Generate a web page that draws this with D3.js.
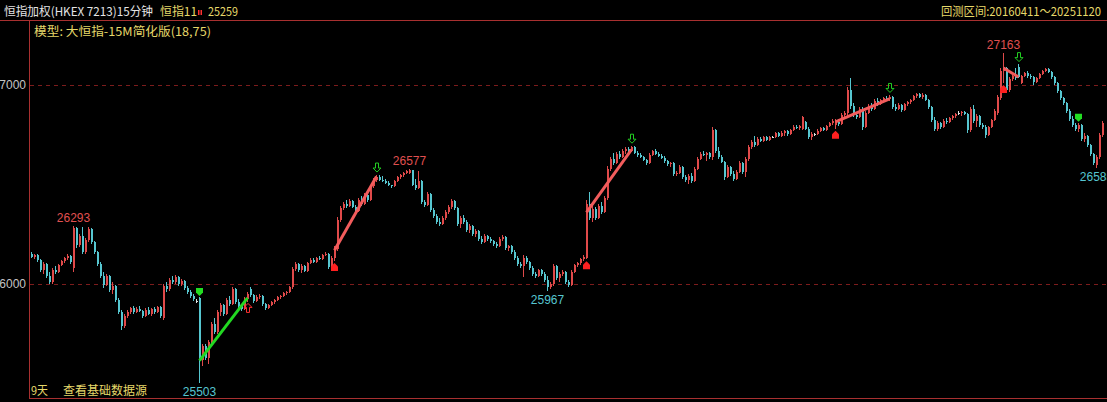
<!DOCTYPE html>
<html>
<head>
<meta charset="utf-8">
<script src="https://cdn.jsdelivr.net/npm/d3@7"></script>
<style>
html, body { margin: 0; padding: 0; background: #000; overflow: hidden; }
svg { display: block; }
</style>
</head>
<body>
<div id="chart"></div>
<script>

/* Data */
/* ---- */

// 15 minute bars, [open, high, low, close]
var bars1 = [
  [26150,26160,26130,26135],[26135,26150,26125,26145],[26145,26150,26110,26120],[26120,26125,26060,26070],
  [26070,26110,26050,26100],[26100,26105,26030,26040],[26040,26060,26000,26010],[26010,26080,26000,26070],
  [26070,26090,26050,26060],[26060,26100,26055,26095],[26095,26120,26090,26115],[26115,26135,26105,26130],
  [26130,26150,26120,26140],[26140,26145,26100,26110],[26080,26293,26060,26280],[26280,26285,26180,26195],
  [26195,26250,26185,26240],[26240,26285,26150,26160],[26160,26230,26150,26220],[26220,26285,26210,26275],
  [26275,26280,26200,26210],[26210,26215,26150,26160],[26160,26165,26090,26100],[26100,26110,26030,26040],
  [26040,26060,25980,25995],[25995,26050,25990,26040],[26040,26045,25960,25970],[25970,26010,25950,25990],
  [25990,25995,25910,25920],[25920,25930,25850,25860],[25860,25870,25770,25790],[25790,25850,25780,25840],
  [25840,25870,25830,25860],[25860,25885,25850,25880],[25880,25890,25850,25860],[25860,25885,25855,25875],
  [25875,25890,25860,25865],[25865,25870,25830,25840],[25840,25880,25835,25870],[25870,25885,25845,25850],
  [25850,25880,25840,25875],[25875,25885,25850,25860],[25860,25890,25855,25885],[25885,25890,25830,25840]
];
var bars2 = [
  [25830,26000,25820,25990],[25990,26010,25960,25975],[25975,26030,25965,26020],[26020,26040,26000,26010],
  [26010,26045,26000,26035],[26035,26040,25990,26000],[26000,26025,25990,26015],[26015,26020,25970,25980],
  [25980,25990,25950,25960],[25960,25970,25930,25940],[25940,25950,25915,25925],[25915,25925,25905,25915]
];
var bars3 = [
  [25930,25935,25503,25620],[25620,25700,25590,25690],[25690,25700,25620,25630],[25630,25720,25600,25710],
  [25710,25810,25700,25800],[25800,25830,25750,25760],[25760,25870,25750,25860],[25860,25905,25840,25895],
  [25895,25900,25840,25850],[25850,25930,25845,25920],[25920,25940,25890,25900],[25900,25985,25895,25975],
  [25975,25980,25900,25910],[25910,25925,25880,25890],[25890,25900,25865,25875],[25875,25935,25870,25925],
  [25925,25960,25910,25950],[25975,25985,25935,25945],[25945,25950,25905,25915],[25915,25945,25910,25935],
  [25935,25950,25925,25940],[25940,25945,25890,25900],[25900,25905,25870,25880],[25880,25900,25875,25895],
  [25895,25915,25890,25910],[25910,25925,25900,25920],[25920,25940,25915,25935],[25935,25945,25925,25940],
  [25940,25960,25935,25955],[25955,25965,25945,25960],[25960,25990,25955,25985]
];
var bars4 = [
  [25985,26085,25975,26075],[26075,26110,26065,26100],[26100,26105,26060,26070],[26070,26100,26055,26090],
  [26090,26095,26060,26065],[26065,26110,26060,26105],[26105,26130,26100,26120],[26120,26130,26105,26110],
  [26110,26135,26105,26130],[26130,26140,26120,26125],[26125,26150,26120,26145],[26145,26160,26140,26150],
  [26150,26155,26075,26085],[26085,26140,26080,26130],[26130,26190,26115,26175],[26175,26335,26165,26320],
  [26320,26390,26310,26380],[26380,26410,26370,26400],[26400,26420,26380,26390],[26390,26425,26385,26415],
  [26415,26420,26380,26385],[26385,26395,26355,26365],[26365,26430,26360,26420],[26420,26440,26390,26400],
  [26400,26455,26395,26445],[26445,26450,26410,26420],[26420,26500,26415,26490],[26490,26535,26480,26525],
  [26525,26550,26515,26540],[26540,26550,26520,26525],[26525,26545,26515,26520],[26520,26530,26505,26510],
  [26510,26520,26490,26495],[26495,26500,26480,26490],[26490,26525,26485,26520],[26520,26545,26515,26540],
  [26540,26555,26530,26550],[26550,26565,26540,26560],[26560,26575,26555,26570],[26560,26577,26555,26572],
  [26572,26575,26490,26500],[26500,26530,26470,26480],[26480,26570,26475,26520],[26520,26525,26400,26410],
  [26410,26420,26385,26395],[26395,26460,26390,26450],[26450,26455,26360,26370],[26370,26380,26330,26340],
  [26340,26350,26300,26310],[26310,26330,26290,26300],[26300,26340,26295,26330],[26330,26370,26320,26360],
  [26360,26395,26350,26385],[26385,26425,26375,26415],[26415,26420,26370,26380],[26380,26385,26290,26300]
];
var bars5 = [
  [26300,26340,26280,26330],[26330,26345,26300,26310],[26310,26320,26260,26270],[26270,26300,26255,26290],
  [26290,26295,26240,26250],[26250,26275,26235,26265],[26265,26270,26215,26225],[26225,26240,26200,26210],
  [26210,26250,26205,26240],[26240,26245,26215,26225],[26225,26235,26205,26215],[26215,26220,26190,26200],
  [26200,26210,26180,26190],[26190,26235,26185,26225],[26225,26245,26215,26235],[26235,26240,26170,26180],
  [26180,26195,26165,26190],[26190,26195,26150,26160],[26160,26170,26120,26130],[26130,26140,26090,26100],
  [26100,26110,26080,26090],[26090,26145,26035,26130],[26130,26140,26100,26110],[26110,26115,26070,26080],
  [26080,26090,26040,26050],[26050,26060,26030,26040],[26040,26075,26035,26070],[26070,26075,26040,26050],
  [26050,26060,26010,26020],[26020,26040,25967,25985],[25985,26010,25975,26000],[26000,26100,25990,26090],
  [26090,26095,26020,26030],[26030,26060,26010,26050],[26050,26070,26040,26060],[26060,26065,26000,26010],
  [26010,26020,25985,25995],[25995,26070,25990,26060],[26060,26100,26055,26095],[26095,26110,26085,26105],
  [26105,26130,26095,26125],[26125,26145,26115,26135],[26130,26420,26125,26400]
];
var bars6 = [
  [26400,26460,26320,26330],[26330,26390,26310,26375],[26375,26385,26320,26330],[26330,26400,26325,26390],
  [26390,26410,26350,26360],[26360,26440,26355,26430],[26430,26595,26420,26580],[26580,26640,26570,26630],
  [26630,26660,26600,26610],[26610,26665,26605,26655],[26655,26670,26630,26640],[26640,26680,26635,26670],
  [26670,26690,26655,26680],[26680,26690,26660,26670],[26670,26695,26665,26690],[26690,26695,26655,26660],
  [26660,26670,26640,26650],[26650,26660,26635,26640],[26640,26645,26620,26625],[26625,26630,26600,26610],
  [26610,26660,26605,26650],[26650,26675,26645,26670],[26670,26680,26650,26655],[26655,26665,26640,26645],
  [26645,26655,26630,26635],[26635,26645,26610,26620],[26620,26625,26595,26605],[26605,26615,26590,26610],
  [26610,26615,26545,26555],[26555,26570,26545,26560],[26560,26600,26555,26590],[26590,26595,26530,26540],
  [26540,26550,26515,26525],[26525,26555,26505,26545],[26545,26560,26510,26520],[26520,26590,26515,26580],
  [26580,26640,26575,26630],[26630,26665,26625,26655],[26655,26670,26645,26650],[26650,26665,26620,26660],
  [26660,26665,26630,26640]
];
var bars7 = [
  [26640,26790,26625,26775],[26775,26780,26660,26670],[26670,26690,26630,26640],[26640,26650,26610,26615],
  [26615,26620,26525,26540],[26540,26600,26535,26590],[26590,26595,26545,26555],[26555,26570,26520,26530],
  [26530,26575,26525,26565],[26565,26620,26560,26610],[26610,26615,26555,26565],[26565,26640,26540,26630],
  [26630,26700,26620,26690],[26690,26725,26680,26715],[26715,26745,26690,26700],[26700,26740,26695,26730],
  [26730,26740,26715,26720],[26720,26745,26715,26740],[26740,26745,26720,26725],[26725,26745,26720,26740],
  [26738,26742,26732,26738],[26738,26765,26735,26760],[26760,26765,26740,26745],[26745,26770,26740,26760],
  [26760,26775,26745,26770],[26770,26775,26745,26755],[26755,26780,26750,26775],[26775,26800,26770,26790],
  [26790,26800,26780,26785],[26785,26800,26775,26795],[26780,26845,26775,26840],[26815,26820,26775,26780],
  [26780,26790,26730,26740],[26740,26765,26725,26755],[26755,26760,26745,26755],[26755,26780,26750,26770],
  [26770,26790,26765,26785],[26785,26790,26770,26775],[26775,26800,26770,26795],[26795,26815,26790,26810],
  [26810,26830,26800,26820],[26800,26830,26780,26815],[26815,26830,26795,26805],[26805,26860,26800,26850],
  [26850,26870,26840,26860]
];
var bars8 = [
  [26860,26990,26840,26975],[26975,27035,26880,26895],[26895,26910,26840,26850],[26850,26865,26830,26840],
  [26840,26890,26835,26880],[26880,26890,26775,26790],[26790,26870,26785,26860],[26860,26905,26855,26895],
  [26895,26910,26870,26880],[26880,26930,26875,26920],[26920,26935,26895,26905],[26905,26930,26900,26925],
  [26925,26940,26915,26935],[26935,26945,26920,26930],[26930,26950,26920,26940],[26940,26945,26880,26890],
  [26890,26905,26870,26880],[26880,26910,26875,26900],[26900,26905,26865,26875],[26875,26910,26870,26905],
  [26905,26920,26895,26915],[26915,26930,26905,26925],[26925,26950,26920,26945],[26945,26960,26935,26955],
  [26955,26960,26935,26940],[26940,26960,26930,26950],[26950,26955,26920,26925],[26925,26930,26880,26890],
  [26890,26895,26815,26825],[26825,26840,26770,26780],[26780,26820,26770,26810],[26810,26815,26780,26790],
  [26790,26830,26785,26820],[26820,26835,26805,26815],[26815,26840,26810,26835],[26835,26850,26825,26845],
  [26845,26860,26835,26855],[26858,26868,26850,26858],[26858,26870,26845,26865],[26865,26870,26850,26855],
  [26855,26860,26760,26775],[26775,26890,26765,26880],[26880,26900,26810,26820],[26820,26855,26790,26845],
  [26845,26850,26790,26800],[26800,26810,26780,26790],[26790,26800,26735,26750],[26750,26795,26745,26790],
  [26790,26830,26785,26825],[26825,26880,26820,26870],[26860,26950,26850,26940],[26935,27085,26925,27070]
];
var bars9 = [
  [27070,27163,27010,27090],[27085,27090,26965,26975],[26975,27040,26965,27030],[27030,27050,27020,27045],
  [27045,27085,27025,27035],[27090,27105,27035,27040],[27010,27050,27005,27045],[27045,27065,27040,27060],
  [27060,27070,27035,27045],[27045,27055,27030,27040],[27040,27045,27000,27015],[27015,27040,27010,27035],
  [27035,27060,27030,27055],[27055,27075,27050,27070],[27070,27085,27065,27080],[27080,27085,27060,27065],
  [27065,27070,27030,27040],[27040,27045,27000,27010],[27010,27015,26960,26970],[26970,26975,26925,26935],
  [26935,26940,26900,26910],[26910,26915,26860,26870],[26870,26880,26820,26830],[26830,26845,26790,26800],
  [26800,26810,26770,26780],[26780,26810,26765,26800],[26800,26805,26720,26730],[26730,26760,26715,26745],
  [26745,26750,26690,26700],[26700,26705,26645,26655],[26655,26660,26600,26610],[26600,26650,26585,26640],
  [26640,26760,26630,26750],[26750,26820,26740,26810]
];

var yTicks = [26000, 27000];

// [side, entry bar, entry price, exit bar, exit price]
var trades = [
  ['short', 56, 25615, 72, 25930],
  ['long', 101, 26170, 115, 26540],
  ['long', 185, 26360, 200, 26675],
  ['long', 268, 26815, 286, 26930],
  ['long', 324, 27085, 329, 27040],
  ['short', 349, null, null, null]
];

// marked highs / lows [bar, which]
var extremes = [[14, 'high'], [56, 'low'], [126, 'high'], [172, 'low'], [324, 'high'], [355, 'low']];


/* Setup */
/* ----- */

var W = 1107, H = 402;
var plot = { left: 30, right: 1104, top: 21, bottom: 397 };

var col = {
  up: '#e04a4a', down: '#56c6d0', flat: '#e0e0e0',
  frame: '#a83030', grid: '#7c1c1c',
  yellow: '#e6d86a', white: '#e4e4e4', axis: '#c4c4c4',
  tradeLong: '#f25c5c', tradeShort: '#22d822'
};

var bars = [].concat(bars1, bars2, bars3, bars4, bars5, bars6, bars7, bars8, bars9).map(function(d, i) {
  return { i: i, o: d[0], h: d[1], l: d[2], c: d[3] };
});

var x = d3.scaleBand().domain(d3.range(bars.length)).range([plot.left, plot.right]);
var y = d3.scaleLinear().domain([26000, 27000]).range([284, 85]);

function xc(i) { return x(i) + x.bandwidth() / 2; }

var svg = d3.select('#chart').append('svg')
    .attr('width', W).attr('height', H)
    .style('background', '#000');

svg.append('defs').append('clipPath').attr('id', 'plot-clip')
  .append('rect')
    .attr('x', plot.left).attr('y', plot.top)
    .attr('width', W - plot.left).attr('height', plot.bottom - plot.top);

var cjk = '"Noto Sans CJK SC", "Noto Sans", sans-serif';
var num = '"Liberation Sans", Arial, sans-serif';


/* Grid and axis */
/* ------------- */

svg.append('g')
    .attr('transform', 'translate(' + plot.left + ',0)')
    .call(d3.axisRight(y).tickValues(yTicks).tickSize(W - plot.left).tickFormat(''))
    .call(function(g) {
      g.select('.domain').remove();
      g.selectAll('.tick line').attr('stroke', col.grid).attr('stroke-dasharray', '4,4');
    });

svg.append('g')
    .attr('transform', 'translate(26,0)')
    .call(d3.axisLeft(y).tickValues(yTicks).tickSize(0).tickPadding(0).tickFormat(d3.format('d')))
    .call(function(g) {
      g.select('.domain').remove();
      g.selectAll('text')
        .attr('fill', col.axis)
        .style('font-family', num)
        .style('font-size', '12px');
    });


/* Candles */
/* ------- */

var chart = svg.append('g').attr('clip-path', 'url(#plot-clip)');

function barColour(d) {
  return d.c > d.o ? col.up : d.c < d.o ? col.down : col.flat;
}

var candle = chart.append('g').attr('shape-rendering', 'crispEdges')
  .selectAll('.candle')
  .data(bars)
  .enter().append('g').attr('class', 'candle');

candle.append('rect')
    .attr('x', function(d) { return Math.round(xc(d.i)) - 1; })
    .attr('width', 1)
    .attr('y', function(d) { return Math.round(y(d.h)); })
    .attr('height', function(d) { return Math.max(1, Math.round(y(d.l)) - Math.round(y(d.h))); })
    .attr('fill', barColour);

candle.append('rect')
    .attr('x', function(d) { return Math.round(xc(d.i)) - 1; })
    .attr('width', 2)
    .attr('y', function(d) { return Math.round(y(Math.max(d.o, d.c))); })
    .attr('height', function(d) { return Math.max(1, Math.round(y(Math.min(d.o, d.c))) - Math.round(y(Math.max(d.o, d.c)))); })
    .attr('fill', barColour);


/* Trades */
/* ------ */

var closedTrades = trades.filter(function(t) { return t[3] !== null; });

chart.append('g').selectAll('line')
  .data(closedTrades)
  .enter().append('line')
    .attr('x1', function(t) { return xc(t[1]); })
    .attr('y1', function(t) { return y(t[2]); })
    .attr('x2', function(t) { return xc(t[3]); })
    .attr('y2', function(t) { return y(t[4]); })
    .attr('stroke', function(t) { return t[0] === 'long' ? col.tradeLong : col.tradeShort; })
    .attr('stroke-width', 3);

var upFilled = 'M0,0L3.5,3.5L3.5,8L-3.5,8L-3.5,3.5Z';
var downFilled = 'M0,0L3.5,-3.5L3.5,-8L-3.5,-8L-3.5,-3.5Z';
var downHollow = 'M0,0L4,-4L1.5,-4L1.5,-9L-1.5,-9L-1.5,-4L-4,-4Z';
var upHollow = 'M0,0L4,4L1.5,4L1.5,9L-1.5,9L-1.5,4L-4,4Z';

var marks = chart.append('g');

trades.forEach(function(t) {
  var eb = bars[t[1]];
  if (t[0] === 'long') {
    marks.append('path').attr('d', upFilled)
      .attr('transform', 'translate(' + xc(eb.i) + ',' + (y(eb.l) + 2) + ')')
      .attr('fill', '#ff2020');
  } else {
    marks.append('path').attr('d', downFilled)
      .attr('transform', 'translate(' + xc(eb.i) + ',' + (y(eb.h) - 1) + ')')
      .attr('fill', '#22dd22');
  }
  if (t[3] === null) return;
  var xb = bars[t[3]];
  if (t[0] === 'long') {
    marks.append('path').attr('d', downHollow)
      .attr('transform', 'translate(' + (xc(xb.i) + 0.5) + ',' + (y(xb.h) - 2.5) + ')')
      .attr('fill', 'none').attr('stroke', '#22cc22').attr('stroke-width', 1);
  } else {
    marks.append('path').attr('d', upHollow)
      .attr('transform', 'translate(' + (xc(xb.i) + 0.5) + ',' + (y(xb.l) + 1.5) + ')')
      .attr('fill', 'none').attr('stroke', '#ff3030').attr('stroke-width', 1);
  }
});


/* High / low labels */
/* ----------------- */

chart.append('g').selectAll('text')
  .data(extremes)
  .enter().append('text')
    .attr('x', function(e) { return xc(e[0]); })
    .attr('y', function(e) { return e[1] === 'high' ? y(bars[e[0]].h) - 4 : y(bars[e[0]].l) + 13; })
    .attr('text-anchor', 'middle')
    .attr('fill', function(e) { return e[1] === 'high' ? '#e05050' : '#56c6d0'; })
    .style('font-family', num)
    .style('font-size', '12px')
    .text(function(e) { return e[1] === 'high' ? bars[e[0]].h : bars[e[0]].l; });


/* Frame */
/* ----- */

var frame = svg.append('g').attr('stroke', col.frame).attr('stroke-width', 1).attr('shape-rendering', 'crispEdges');
frame.append('line').attr('x1', 0).attr('x2', W).attr('y1', 20.5).attr('y2', 20.5);
frame.append('line').attr('x1', 29.5).attr('x2', 29.5).attr('y1', 20).attr('y2', 399);
frame.append('line').attr('x1', 29).attr('x2', W).attr('y1', 398.5).attr('y2', 398.5);


/* Texts */
/* ----- */

function label(txt, x0, y0, w, colour) {
  svg.append('text')
    .attr('x', x0).attr('y', y0)
    .attr('textLength', w).attr('lengthAdjust', 'spacingAndGlyphs')
    .attr('fill', colour)
    .style('font-family', cjk)
    .style('font-size', '12px')
    .text(txt);
}

label('恒指加权(HKEX 7213)15分钟', 4, 16, 149, col.white);
label('恒指11', 160, 16, 37, col.yellow);
svg.append('rect').attr('x', 198).attr('y', 10).attr('width', 1.5).attr('height', 5).attr('fill', '#ff3030');
svg.append('rect').attr('x', 200.5).attr('y', 10).attr('width', 1.5).attr('height', 5).attr('fill', '#ff3030');
label('25259', 208, 16, 30, col.yellow);
label('回测区间:20160411～20251120', 941, 16, 160, col.yellow);
label('模型: 大恒指-15M简化版(18,75)', 34, 36, 177, col.yellow);
label('9天', 31, 395, 17, col.yellow);
label('查看基础数据源', 63, 395, 84, col.yellow);

</script>
</body>
</html>
